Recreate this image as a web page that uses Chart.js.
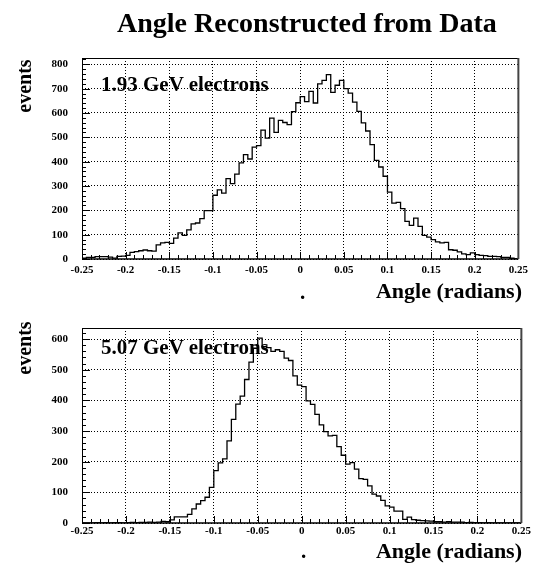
<!DOCTYPE html>
<html>
<head>
<meta charset="utf-8">
<script src="https://cdn.jsdelivr.net/npm/chart.js@4.4.1/dist/chart.umd.min.js"></script>
<style>
body { margin: 0; background: #fff; width: 533px; height: 578px; position: relative; overflow: hidden;
       font-family: 'Liberation Serif', 'Times New Roman', serif; font-weight: bold; color: #000; }
canvas { position: absolute; left: 0; }
.t { position: absolute; line-height: 1; white-space: nowrap; }
.rot { transform: translate(-50%, -50%) rotate(-90deg); }
</style>
</head>
<body>
<canvas id="top" width="533" height="300" style="top:0"></canvas>
<canvas id="bot" width="533" height="278" style="top:300px"></canvas>

<div class="t" style="left:117px;top:9px;font-size:28px">Angle Reconstructed from Data</div>
<div class="t rot" style="left:24px;top:86px;font-size:20px">events</div>
<div class="t rot" style="left:24px;top:348px;font-size:20px">events</div>
<div class="t" style="left:101px;top:74px;font-size:21px">1.93 GeV electrons</div>
<div class="t" style="left:101px;top:337px;font-size:21px">5.07 GeV electrons</div>
<div class="t" style="right:11px;top:280px;font-size:22px">Angle (radians)</div>
<div class="t" style="right:11px;top:540px;font-size:22px">Angle (radians)</div>
<div class="t" style="left:300px;top:282px;font-size:21px">.</div>
<div class="t" style="left:301px;top:541px;font-size:21px">.</div>

<script>
// histogram binning: 100 bins from -0.25 to 0.25
const binLow = -0.25;
const binWidth = 0.005;

const xTickLabels = ['-0.25', '-0.2', '-0.15', '-0.1', '-0.05', '0', '0.05', '0.1', '0.15', '0.2', '0.25'];
const yTickTop = [0, 100, 200, 300, 400, 500, 600, 700, 800];
const yTickBot = [0, 100, 200, 300, 400, 500, 600];

// 1.93 GeV electrons, events per bin
const counts193 = [
    3, 7, 7, 10, 10, 10, 8, 4, 11, 12,
    15, 27, 30, 34, 37, 34, 32, 58, 66, 68,
    64, 86, 107, 97, 120, 144, 148, 166, 199, 199,
    262, 284, 271, 330, 310, 349, 395, 429, 411, 460,
    466, 530, 497, 579, 520, 570, 561, 552, 606, 642,
    667, 647, 689, 641, 720, 734, 758, 685, 714, 734,
    700, 682, 645, 607, 559, 526, 470, 405, 378, 340,
    275, 230, 233, 207, 155, 138, 168, 134, 97, 90,
    80, 70, 66, 68, 38, 36, 29, 21, 18, 25,
    18, 15, 14, 11, 11, 10, 7, 7, 3, 1
];

// 5.07 GeV electrons, events per bin
const counts507 = [
    0, 0, 0, 1, 0, 1, 0, 1, 1, 0,
    1, 2, 1, 2, 2, 3, 2, 3, 5, 4,
    10, 20, 20, 20, 28, 46, 62, 73, 84, 116,
    171, 196, 209, 268, 338, 388, 414, 468, 525, 570,
    603, 575, 572, 560, 565, 560, 538, 530, 480, 450,
    445, 398, 387, 354, 320, 298, 284, 286, 249, 221,
    192, 197, 176, 145, 142, 121, 94, 88, 74, 56,
    52, 39, 39, 12, 19, 11, 9, 8, 7, 6,
    4, 4, 3, 4, 3, 3, 3, 1, 2, 1,
    1, 0, 1, 0, 0, 0, 0, 0, 0, 0
];

// step outline: one point per low bin edge, plus the last high edge
function histPoints(counts) {
    const pts = counts.map((c, i) => ({ x: binLow + i * binWidth, y: c }));
    pts.push({ x: binLow + counts.length * binWidth, y: counts[counts.length - 1] });
    return pts;
}

// frame and inward ticks, ROOT style
const frame = {
    id: 'frame',
    afterDraw(chart) {
        const { ctx, chartArea: a, scales: { x, y } } = chart;
        ctx.save();
        ctx.strokeStyle = '#000';
        ctx.lineWidth = 1;
        ctx.beginPath();
        for (let i = 0; i <= 50; i++) {
            const px = Math.round(x.getPixelForValue(binLow + i * 0.01)) + 0.5;
            const len = i % 5 === 0 ? 7 : 4;
            ctx.moveTo(px, a.bottom);
            ctx.lineTo(px, a.bottom - len);
        }
        for (let v = 0; v <= y.max; v += 20) {
            const py = Math.round(y.getPixelForValue(v)) + 0.5;
            const len = v % 100 === 0 ? 8 : 4;
            ctx.moveTo(a.left, py);
            ctx.lineTo(a.left + len, py);
        }
        ctx.moveTo(a.left + 0.5, a.top + 0.5);
        ctx.lineTo(a.right, a.top + 0.5);
        ctx.moveTo(a.left + 0.5, a.top);
        ctx.lineTo(a.left + 0.5, a.bottom);
        ctx.stroke();
        ctx.lineWidth = 1.5;
        ctx.beginPath();
        ctx.moveTo(a.left, a.bottom);
        ctx.lineTo(a.right, a.bottom);
        ctx.stroke();
        ctx.strokeStyle = '#444';
        ctx.lineWidth = 2;
        ctx.beginPath();
        ctx.moveTo(a.right, a.top);
        ctx.lineTo(a.right, a.bottom);
        ctx.stroke();
        ctx.restore();
    }
};

function makeHist(id, counts, yTicks, yMax, pad, xHeight, labelPad) {
    const tickFont = { family: 'Liberation Serif', weight: 'bold', size: 11 };
    return new Chart(document.getElementById(id), {
        type: 'line',
        data: {
            datasets: [{
                data: histPoints(counts),
                stepped: 'before',
                borderColor: '#000',
                borderWidth: 1.3,
                pointRadius: 0,
                fill: false
            }]
        },
        options: {
            responsive: false,
            animation: false,
            devicePixelRatio: 1,
            layout: { padding: { left: 0, right: 11, top: pad, bottom: 0 } },
            plugins: { legend: { display: false }, tooltip: { enabled: false } },
            scales: {
                x: {
                    type: 'linear',
                    min: -0.25,
                    max: 0.25,
                    afterFit: s => { s.height = xHeight; },
                    afterBuildTicks: s => { s.ticks = xTickLabels.map(l => ({ value: parseFloat(l) })); },
                    grid: { color: '#000', lineWidth: 1, drawTicks: false },
                    border: { display: false, dash: [1, 2] },
                    ticks: {
                        autoSkip: false, maxRotation: 0, padding: labelPad,
                        color: '#000', font: tickFont,
                        callback: (v, i) => xTickLabels[i]
                    }
                },
                y: {
                    min: 0,
                    max: yMax,
                    afterFit: s => { s.width = 82; },
                    afterBuildTicks: s => { s.ticks = yTicks.map(v => ({ value: v })); },
                    grid: { color: '#000', lineWidth: 1, drawTicks: false },
                    border: { display: false, dash: [1, 2] },
                    ticks: { padding: 14, color: '#000', font: tickFont, callback: v => String(v) }
                }
            }
        },
        plugins: [frame]
    });
}

makeHist('top', counts193, yTickTop, 826, 58, 41, 5);
makeHist('bot', counts507, yTickBot, 636, 28, 55, 2);
</script>
</body>
</html>
